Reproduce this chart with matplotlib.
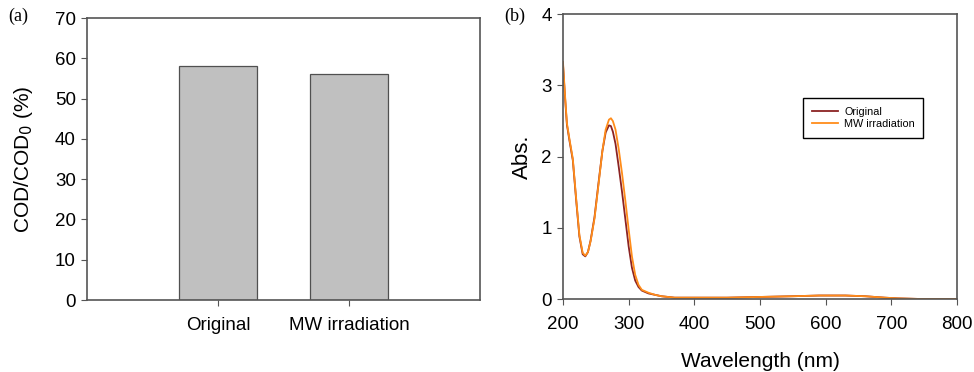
import matplotlib
matplotlib.use("Agg")
import matplotlib.pyplot as plt

plt.rcParams['font.family'] = ['Liberation Sans', 'DejaVu Sans']

# panel (a)
categories = ['Original', 'MW irradiation']
cod_ratio = [58, 56]

# panel (b)
wavelength = [200, 203, 206, 210, 215, 220, 225, 230, 234, 238, 242, 248, 255, 260, 265, 270, 273, 276,
              280, 285, 290, 295, 300, 305, 310, 315, 320, 330, 340, 350, 370, 400, 450, 500, 550,
              590, 630, 660, 690, 710, 750, 800]
abs_original = [3.30, 2.85, 2.45, 2.22, 1.95, 1.40, 0.88, 0.63, 0.60, 0.66, 0.82, 1.15, 1.70, 2.08, 2.34, 2.44,
                2.43, 2.35, 2.18, 1.85, 1.50, 1.12, 0.74, 0.44, 0.26, 0.17, 0.12, 0.08, 0.06, 0.04,
                0.02, 0.02, 0.02, 0.03, 0.04, 0.05, 0.05, 0.04, 0.02, 0.01, 0.0, 0.0]
abs_mw = [3.33, 2.88, 2.47, 2.24, 1.97, 1.42, 0.90, 0.65, 0.61, 0.66, 0.81, 1.13, 1.68, 2.08, 2.38, 2.52,
          2.54, 2.50, 2.38, 2.10, 1.76, 1.38, 0.98, 0.60, 0.34, 0.20, 0.13, 0.09, 0.06, 0.04,
          0.02, 0.02, 0.02, 0.03, 0.04, 0.05, 0.05, 0.04, 0.02, 0.01, 0.0, 0.0]

fig = plt.figure(figsize=(9.74, 3.72), dpi=100)
ax1 = fig.add_axes([0.0893, 0.1935, 0.4035, 0.758])
ax2 = fig.add_axes([0.578, 0.196, 0.4046, 0.7656])

spine_col = '#555555'

ax1.bar([1, 2], cod_ratio, width=0.6, color='#c0c0c0', edgecolor='#505050', linewidth=0.9)
ax1.set_xlim(0, 3)
ax1.set_ylim(0, 70)
ax1.set_xticks([1, 2])
ax1.set_xticklabels(categories)
ax1.set_yticks(range(0, 71, 10))
ax1.set_ylabel('COD/COD$_0$ (%)', fontsize=15, labelpad=14)

ax2.plot(wavelength, abs_original, color='#8b2323', lw=1.3, label='Original')
ax2.plot(wavelength, abs_mw, color='#ff8c1a', lw=1.3, label='MW irradiation')
ax2.set_xlim(200, 800)
ax2.set_ylim(0, 4)
ax2.set_xticks(range(200, 801, 100))
ax2.set_yticks(range(0, 5))
ax2.set_xlabel('Wavelength (nm)', fontsize=15, labelpad=14)
ax2.set_ylabel('Abs.', fontsize=16, labelpad=6)
leg = ax2.legend(loc='upper left', bbox_to_anchor=(0.595, 0.725), fontsize=7.8, frameon=True,
                 fancybox=False, edgecolor='black', framealpha=1, handlelength=2.4,
                 borderpad=0.8, labelspacing=0.2, handletextpad=0.6)
leg.get_frame().set_linewidth(1.0)

for ax in (ax1, ax2):
    for s in ax.spines.values():
        s.set_color(spine_col)
        s.set_linewidth(1.2)
    ax.tick_params(direction='out', length=4, color=spine_col, labelsize=13.5)
    ax.tick_params(axis='x', pad=8)
    ax.tick_params(axis='y', pad=4)

fig.text(0.008, 0.955, '(a)', family='Liberation Serif', fontsize=13, va='center')
fig.text(0.518, 0.955, '(b)', family='Liberation Serif', fontsize=13, va='center')

fig.savefig('out.png', dpi=100)
